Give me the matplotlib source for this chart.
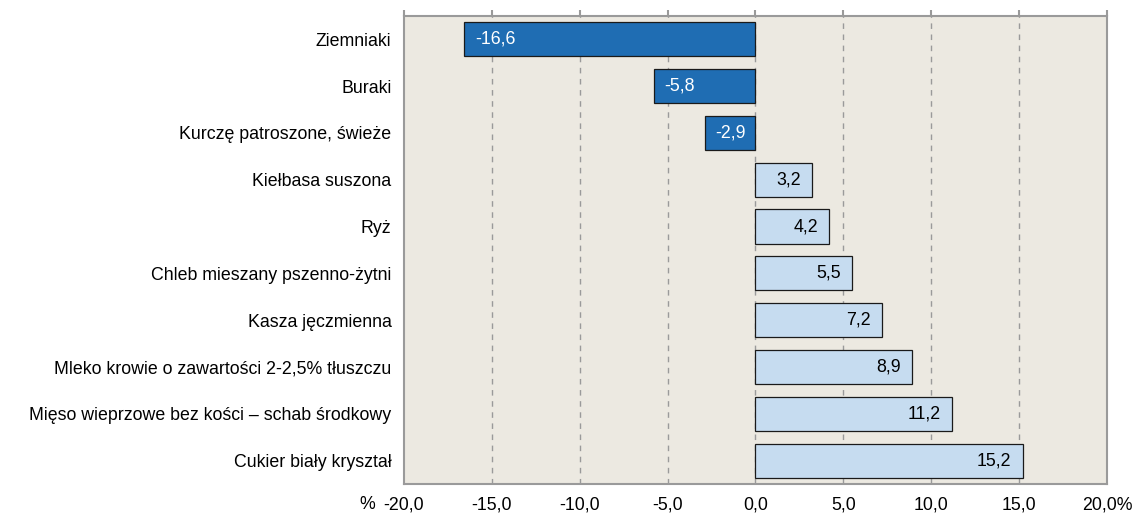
import matplotlib
matplotlib.use("Agg")
import matplotlib.pyplot as plt

plt.rcParams['font.family'] = ['Liberation Sans', 'DejaVu Sans']

# dane - zmiana cen w %
produkty = [
    "Ziemniaki",
    "Buraki",
    "Kurczę patroszone, świeże",
    "Kiełbasa suszona",
    "Ryż",
    "Chleb mieszany pszenno-żytni",
    "Kasza jęczmienna",
    "Mleko krowie o zawartości 2-2,5% tłuszczu",
    "Mięso wieprzowe bez kości – schab środkowy",
    "Cukier biały kryształ",
]
zmiany = [-16.6, -5.8, -2.9, 3.2, 4.2, 5.5, 7.2, 8.9, 11.2, 15.2]
ticki = [-20, -15, -10, -5, 0, 5, 10, 15, 20]

ciemny = '#1f6db3'
jasny = '#c6dcf0'
tlo = '#ece9e1'
szary = '#9a9a9a'
fs = 12.8

fig = plt.figure(figsize=(11.45, 5.15), dpi=100)
ax = fig.add_axes([0.3528, 0.0602, 0.6140, 0.9088])
ax.set_facecolor(tlo)

y = list(range(len(produkty)))
kolory = [ciemny if v < 0 else jasny for v in zmiany]
ax.barh(y, zmiany, height=0.73, color=kolory, edgecolor='#1a1a1a', linewidth=0.9, zorder=3)

for yi, v in zip(y, zmiany):
    s = ('%.1f' % v).replace('.', ',')
    if v < 0:
        ax.annotate(s, (v, yi), xytext=(8, 0), textcoords='offset points',
                    ha='left', va='center', color='white', fontsize=fs, zorder=4)
    else:
        ax.annotate(s, (v, yi), xytext=(-8, 0), textcoords='offset points',
                    ha='right', va='center', color='black', fontsize=fs, zorder=4)

ax.set_xlim(-20, 20)
ax.set_ylim(len(produkty) - 0.5, -0.5)
ax.set_yticks(y)
ax.set_yticklabels(produkty, fontsize=fs)
ax.tick_params(axis='y', length=0, pad=9)

ax.set_xticks(ticki)
etykiety = [('%.1f' % t).replace('.', ',') for t in ticki]
etykiety[-1] = etykiety[-1] + '%'
ax.set_xticklabels(etykiety, fontsize=fs)
ax.tick_params(axis='x', bottom=False, top=True, labelbottom=True, labeltop=False,
               direction='out', length=4, color=szary, width=1.5, pad=5)

# znak % przed pierwsza etykieta
ax.annotate('%', (0, 0), xycoords='axes fraction', xytext=(-21, -9), textcoords='offset points',
            ha='right', va='top', fontsize=fs)

for t in ticki[1:-1]:
    ax.axvline(t, color=szary, linestyle=(0, (4, 4)), linewidth=1, zorder=1)

for sp in ax.spines.values():
    sp.set_color(szary)
    sp.set_linewidth(1.5)

fig.savefig('out.png', dpi=100)
